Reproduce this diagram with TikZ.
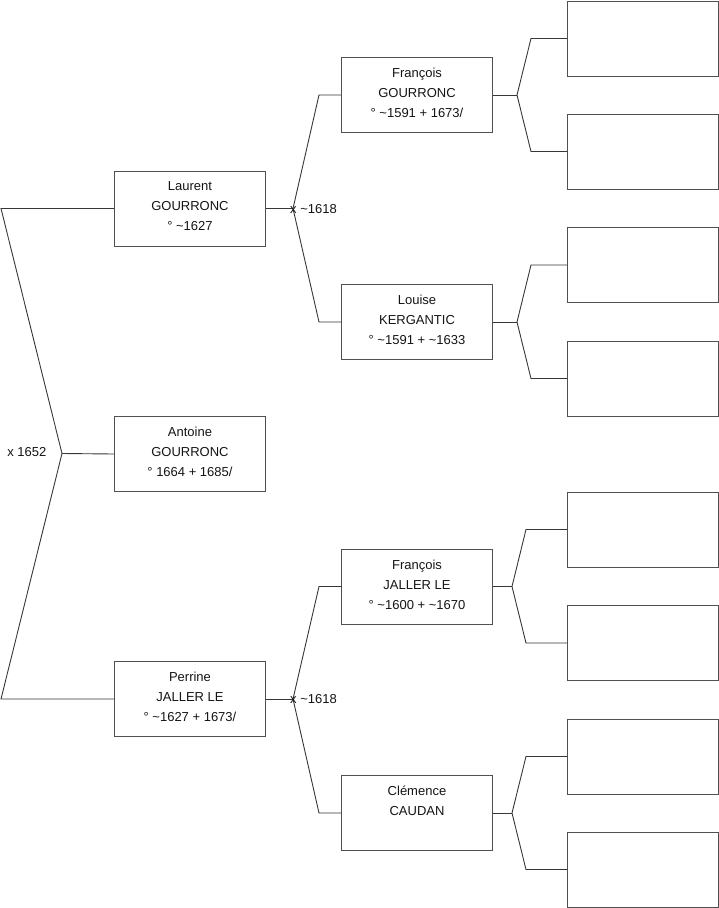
\documentclass[tikz,border=0pt]{standalone}
\usepackage{fontspec}
\setmainfont{Liberation Sans}
\usepackage{tikz}
\definecolor{boxline}{RGB}{80,80,80}
\definecolor{ink}{RGB}{20,20,20}

\tikzset{
  person/.style={draw=boxline,line width=1pt,anchor=north west,
     minimum width=151pt,minimum height=75pt,inner sep=0pt,align=center,
     text=ink,font=\fontsize{13}{20}\selectfont},
  link/.style={draw=ink!85,line width=0.9pt},
  wedding/.style={text=ink,inner sep=0pt,font=\fontsize{13}{15}\selectfont}
}

\begin{document}
\begin{tikzpicture}[x=1pt,y=-1pt]
  \useasboundingbox (0,0) rectangle (719,908);
  % first column
  \node[person] (antoine) at (114,416) {Antoine\\GOURRONC\\° 1664 + 1685/\\[-16pt]};
  \node[person] (laurent) at (114,170.5) {Laurent\\GOURRONC\\° \textasciitilde1627\\[-16pt]};
  \node[person] (perrine) at (114,661) {Perrine\\JALLER LE\\° \textasciitilde1627 + 1673/\\[-16pt]};
  % second column
  \node[person] (fgou) at (341,57) {François\\GOURRONC\\° \textasciitilde1591 + 1673/\\[-16pt]};
  \node[person] (louise) at (341,284) {Louise\\KERGANTIC\\° \textasciitilde1591 + \textasciitilde1633\\[-16pt]};
  \node[person] (fjal) at (341,548.5) {François\\JALLER LE\\° \textasciitilde1600 + \textasciitilde1670\\[-16pt]};
  \node[person] (clemence) at (341,775) {Clémence\\CAUDAN\\\strut\\[-16pt]};
  % empty column
  \foreach \i/\y in {1/0.5,2/113.5,3/227,4/340.5,5/491.5,6/605,7/718.5,8/831.5}{
     \node[person] (e\i) at (567,\y) {};
  }

  % parents of Antoine
  \coordinate (f0) at (62,453.5);
  \draw[link] (antoine.west) -- (f0);
  \draw[link] (laurent.west) -- ++(-113,0) -- (f0);
  \draw[link] (perrine.west) -- ++(-113,0) -- (f0);
  \node[wedding,anchor=east] (m0) at (46.5,452) {x 1652};

  % grand parents
  \foreach \c/\up/\dn/\lab in {laurent/fgou/louise/m1, perrine/fjal/clemence/m2}{
     \coordinate (k\c) at ([xshift=27pt]\c.east);
     \coordinate (j\c) at ([xshift=26pt]k\c);
     \draw[link] (\c.east) -- (k\c);
     \draw[link] (k\c) -- (j\c |- \up.west) -- (\up.west);
     \draw[link] (k\c) -- (j\c |- \dn.west) -- (\dn.west);
     \node[wedding,anchor=west] (\lab) at ([xshift=-3pt,yshift=-0.5pt]k\c) {x \textasciitilde1618};
  }

  % great grand parents
  \foreach \c/\dx/\up/\dn in {fgou/24/e1/e2, louise/24/e3/e4, fjal/19/e5/e6, clemence/19/e7/e8}{
     \coordinate (k\c) at ([xshift=\dx pt]\c.east);
     \coordinate (j\c) at ([xshift=14pt]k\c);
     \draw[link] (\c.east) -- (k\c);
     \draw[link] (k\c) -- (j\c |- \up.west) -- (\up.west);
     \draw[link] (k\c) -- (j\c |- \dn.west) -- (\dn.west);
  }
\end{tikzpicture}
\end{document}
